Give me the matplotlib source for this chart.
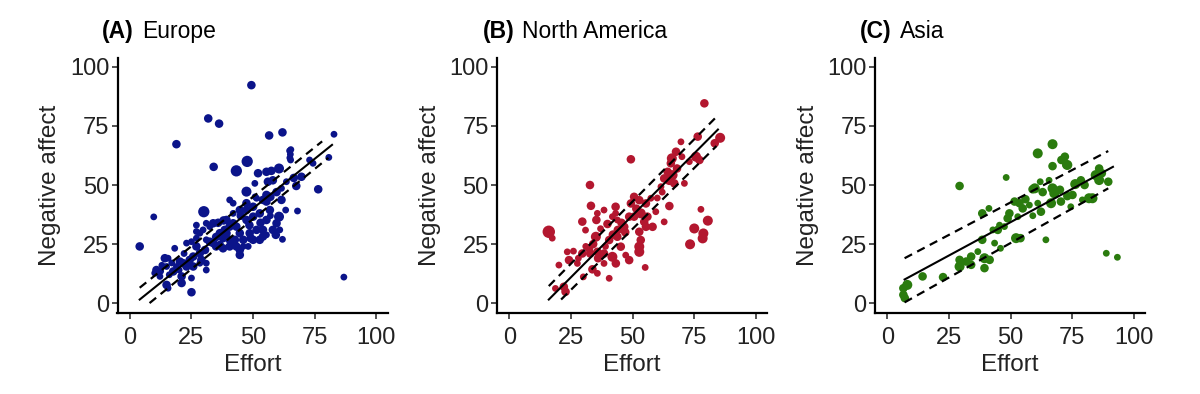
import matplotlib
matplotlib.use("Agg")
import matplotlib.pyplot as plt
import numpy as np

plt.rcParams['font.family'] = ['Liberation Sans', 'DejaVu Sans']

# ---- data ----
# each point: effort, negative affect, relative weight (marker size)
eu_x = [49.3, 31.8, 36.2, 18.9, 56.5, 61.9, 82.8, 34, 43.2, 47.6, 76.4, 30, 9.7, 4, 86.8, 25, 21, 61.9, 68, 69.6,
        80.7, 65.1, 65.3, 52, 55.4, 57.4, 60.5, 58, 56, 59.5, 61.5, 60.5, 63.2, 59.2, 55.4, 54, 51.4, 48.6, 47.3, 50,
        52.7, 56.8, 55.4, 54, 51.4, 47.3, 47.3, 50.7, 41.9, 39.2, 40.5, 41.9, 43.2, 44.6, 46, 44.6, 42.6, 40.5, 37.8,
        36.5, 35, 33.8, 32.4, 31, 33.8, 35.8, 32.4, 27, 27, 25, 27, 28.4, 25.7, 24.3, 23, 25.7, 28.4, 31, 31, 29,
        21.6, 20.3, 18.9, 17.6, 14.9, 14.2, 15.5, 10.8, 10.1, 12.2, 14.9, 15.5, 18.2, 25, 21, 28.4, 29.7, 36.5, 37.8,
        39.2, 40.5, 41.9, 43.2, 44.6, 46, 48, 50, 52.7, 54, 58, 59.5, 60.8, 55.4, 50, 47.3, 44.6, 41.9, 40.5, 50.8,
        55.4, 57, 61.5, 63.5, 74.3, 66.5, 64.9, 31, 23, 20, 16, 12.5, 38, 45, 48.5, 53, 57, 49, 38.5, 35, 30.5, 27,
        22, 17, 13, 72.9, 67.5, 64.8, 65.2]
eu_y = [92.3, 78.2, 76, 67.3, 71, 72.3, 71.5, 57.7, 56, 60, 48.2, 38.7, 36.5, 24, 11, 4.6, 8.5, 27, 39, 53.5,
        61.7, 63, 65, 55, 55.6, 56, 57, 52, 51.4, 47, 43.7, 36.6, 39.4, 28.9, 28.9, 31, 31, 29.6, 35.2, 36.6,
        38, 39.4, 35.2, 43.7, 44.4, 42.3, 47.2, 50.7, 38, 35.2, 32.4, 33.8, 32.4, 29.6, 24, 20.4, 26.8, 24, 23.2,
        24.6, 24, 25.4, 26, 26.8, 33.8, 34, 32.4, 30.3, 33, 26, 24, 21.1, 19.7, 18.3, 15.5, 15.5, 16.9, 16.9, 14, 18.3,
        16.9, 17.6, 15.5, 13.4, 15.5, 19, 19, 14, 12.7, 11.3, 7.7, 6.3, 23.2, 10.6, 11.3, 29.6, 31, 29.6, 27.5,
        29.6, 26.8, 25.4, 24, 22.5, 26.8, 24, 26.8, 26.8, 28.2, 31, 33.8, 31, 43, 40.8, 39.4, 39.4, 42.3, 43.7, 45,
        45.8, 45, 48.6, 51.4, 59.2, 53, 61.5, 33.8, 25.4, 14, 12, 13.5, 35, 37, 33, 34, 37, 27.5, 31, 28, 22.5, 27.5,
        21, 17, 16, 60.6, 49.6, 64.5, 60.6]
eu_w = [2, 2, 2, 2, 2, 2, 1, 2, 4, 4, 2, 4, 1, 2, 1, 2, 2, 1, 1, 2,
        1, 1, 1, 2, 2, 2, 3, 2, 2, 2, 2, 3, 1, 2, 1, 2, 2, 2, 2, 2,
        2, 2, 2, 2, 1, 2, 3, 1, 1, 2, 2, 2, 2, 2, 1, 2, 2, 2, 2,
        2, 2, 2, 2, 1, 2, 2, 1, 1, 1, 1, 2, 2, 2, 2, 2, 2, 1, 1, 1, 2,
        2, 2, 1, 2, 1, 2, 1, 2, 1, 1, 2, 1, 1, 1, 2, 1, 1, 2, 2,
        2, 2, 2, 2, 2, 2, 1, 2, 2, 2, 2, 2, 1, 2, 2, 2, 2, 1, 1, 1,
        2, 2, 1, 1, 1, 2, 1, 1, 1, 1, 1, 1, 2, 2, 2, 2, 1, 2, 2, 2, 2, 1,
        1, 1, 1, 1, 2, 1, 1]

na_x = [16, 32.7, 49.3, 33.1, 29.6, 35.7, 35.3, 38.4, 43.1, 43.1, 39.8, 30.9, 35.1, 32.3, 29.6, 27.6, 23.5, 24.2,
        20.1, 32.8, 35.7, 38.4, 41.8, 43.2, 38.4, 35.7, 33.7, 30, 40.5, 22.8, 22.1, 18.7, 40.5, 43.8, 45.2, 47.2,
        48.6, 46.6, 43.8, 48.6, 49.3, 41.8, 79.1, 85.5, 83.3, 76.4, 69.6, 67.6, 65.9, 65.5, 75.7, 73, 77.1, 71,
        66.2, 64.2, 62.8, 64.9, 66.9, 61.5, 57.4, 64.9, 50.6, 52.7, 55.4, 51.5, 53.3, 56, 54.7, 50.6, 59.4, 62.8,
        58.1, 55.4, 52.7, 53.3, 52.7, 52.7, 55.1, 77.7, 80.5, 75, 78.7, 78.4, 73.3, 17.4, 45.5, 47, 44, 37, 34, 31,
        26, 28, 36, 39, 42, 62, 68, 70, 60]
na_y = [30.2, 50, 60.9, 41.2, 34.5, 38, 35.2, 39.4, 40.8, 38, 33.5, 30.9, 28.1, 23.2, 21, 16.8, 21.7, 18.2,
        16.1, 21, 21.7, 21, 19.6, 16.8, 16.8, 12.6, 14.3, 11.1, 10.5, 4.8, 6.9, 6.2, 26.7, 28.1, 23.9, 20.3,
        18.2, 32.3, 35.2, 36.6, 42.2, 36.6, 84.6, 70, 67.7, 70.5, 68.3, 64.1, 61.3, 59.2, 62, 59.9, 60.6, 50.7,
        54.2, 55.6, 52.8, 52.1, 50.7, 49.3, 44.4, 41.1, 45, 43.6, 42.2, 40, 38, 36.6, 34.4, 36.6, 38.7, 34.4,
        32.3, 32.3, 30.2, 26.7, 23.9, 21.7, 15.1, 39.7, 34.9, 31.6, 29.5, 27.4, 24.9, 27.5, 34, 30, 31, 31.5, 25, 24,
        22, 19, 19, 24, 29, 47, 57, 62, 44.5]
na_w = [5, 2, 2, 2, 2, 1, 2, 1, 2, 1, 2, 1, 3, 2, 2, 1, 1, 2,
        1, 2, 2, 2, 3, 2, 1, 1, 2, 1, 1, 2, 2, 1, 2, 2, 2, 1,
        2, 2, 1, 2, 2, 1, 2, 3, 2, 2, 1, 2, 3, 2, 3, 1, 2, 1,
        3, 2, 2, 3, 2, 1, 1, 2, 2, 2, 2, 2, 3, 2, 2, 2, 1, 1,
        2, 2, 2, 2, 3, 3, 1, 1, 3, 3, 3, 3, 3, 1, 2, 2, 2, 1, 2, 1,
        1, 1, 2, 1, 2, 1, 2, 1, 1]

as_x = [29.3, 67, 61, 72, 73, 67, 48.2, 58.9, 62, 65.6, 67, 67.7, 66.4, 70.4, 62.3, 61, 57.6, 54.9, 53.6, 51.6,
        49.5, 48.8, 52.9, 52.2, 54, 64.3, 74.4, 75.1, 76.2, 78.5, 79.1, 81.8, 83.2, 84.5, 85.9, 85.9, 89.6, 88.8,
        93.3, 41.2, 38.5, 38.5, 42.8, 44.8, 45.5, 43.5, 45.9, 41.5, 39.4, 39.4, 36.7, 34, 34, 32, 29.3, 29.3, 22.6,
        14.3, 8.1, 6.5, 6.5, 7.1, 47.5, 70, 59, 56, 63, 80, 87, 70.6, 72.6, 59.8, 73]
as_y = [49.6, 67.3, 63.4, 62, 58.5, 58, 53.2, 48.2, 51.4, 52, 48.6, 46.5, 42.3, 43, 38.7, 42.3, 41.5, 40.1, 42.3, 43,
        38, 35.9, 36.6, 27.5, 27.5, 26.8, 40.8, 45.8, 50.4, 52, 43.7, 44.4, 44.4, 54.2, 57, 52.1, 51.4, 21.1,
        19.4, 40.1, 38, 26.8, 31, 31, 33, 25.4, 23.2, 18.3, 19, 14.8, 21.8, 19.7, 16.2, 17.6, 15.5, 18.3, 11,
        11.3, 7.7, 6.3, 3.5, 2.1, 32.4, 48, 37, 44, 47, 50, 55, 60.6, 58.5, 48.6, 45.3]
as_w = [2, 3, 3, 2, 3, 2, 1, 2, 1, 1, 3, 3, 3, 2, 2, 1, 1, 2, 2, 2,
        2, 2, 1, 3, 2, 1, 1, 2, 3, 2, 1, 3, 3, 3, 2, 3, 2, 1,
        1, 1, 2, 2, 1, 2, 1, 1, 1, 2, 3, 2, 1, 2, 2, 2, 3, 2, 2,
        2, 3, 2, 2, 2, 1, 2, 1, 2, 2, 2, 2, 2, 2, 3, 2]

# regression line and bounds: [x_start, x_end], [y_start, y_end]
eu_fit = ([4, 82], [1.5, 67])
eu_hi = ([4, 78], [6.5, 68.5])
eu_lo = ([8, 80.5], [0, 61.5])
na_fit = ([16, 84.6], [1.5, 73.5])
na_hi = ([16, 84.3], [7.2, 79.2])
na_lo = ([21, 84], [1.5, 66.5])
as_fit = ([7, 91.5], [10, 57.7])
as_hi = ([7, 89.6], [19, 64.4])
as_lo = ([7, 89.6], [0.3, 48.6])

panels = [
    ("(A)", "Europe", eu_x, eu_y, eu_w, "#0b148a", eu_fit, eu_hi, eu_lo),
    ("(B)", "North America", na_x, na_y, na_w, "#b3172f", na_fit, na_hi, na_lo),
    ("(C)", "Asia", as_x, as_y, as_w, "#2a7b0e", as_fit, as_hi, as_lo),
]
lefts = [117.5, 497, 875]
name_x = [142.5, 522.5, 900]
tag_x = [101.5, 483, 860]

W, H = 1200, 394
fig = plt.figure(figsize=(12, 3.94), dpi=100)

for i, (tag, name, x, y, w, col, fit, hi, lo) in enumerate(panels):
    ax = fig.add_axes([lefts[i] / W, 81 / H, 270 / W, 255 / H])
    ax.scatter(x, y, s=10 + np.array(w) * 14, color=col, edgecolors='none', zorder=2)
    ax.plot(fit[0], fit[1], color='black', lw=1.5, zorder=3)
    ax.plot(hi[0], hi[1], color='black', lw=1.6, dashes=(3.8, 2.6), zorder=3)
    ax.plot(lo[0], lo[1], color='black', lw=1.6, dashes=(3.8, 2.6), zorder=3)
    ax.set_xlim(-5, 104.5)
    ax.set_ylim(-4.2, 103.8)
    ax.set_xticks([0, 25, 50, 75, 100])
    ax.set_yticks([0, 25, 50, 75, 100])
    for s in ['top', 'right']:
        ax.spines[s].set_visible(False)
    for s in ['left', 'bottom']:
        ax.spines[s].set_linewidth(1.6)
    ax.tick_params(axis='both', labelsize=17, length=4, width=1.2, color='#333333',
                   labelcolor='#222222')
    ax.tick_params(axis='x', pad=6)
    ax.tick_params(axis='y', pad=2)
    ax.set_xlabel("Effort", fontsize=17.5, labelpad=4, color='#222222')
    ax.set_ylabel("Negative affect", fontsize=17.5, labelpad=6, color='#222222')
    fig.text(tag_x[i] / W, 1 - 38 / H, tag, fontsize=16.5, fontweight='bold', va='baseline')
    fig.text(name_x[i] / W, 1 - 38 / H, name, fontsize=16.5, va='baseline')

fig.savefig("out.png", dpi=100)
